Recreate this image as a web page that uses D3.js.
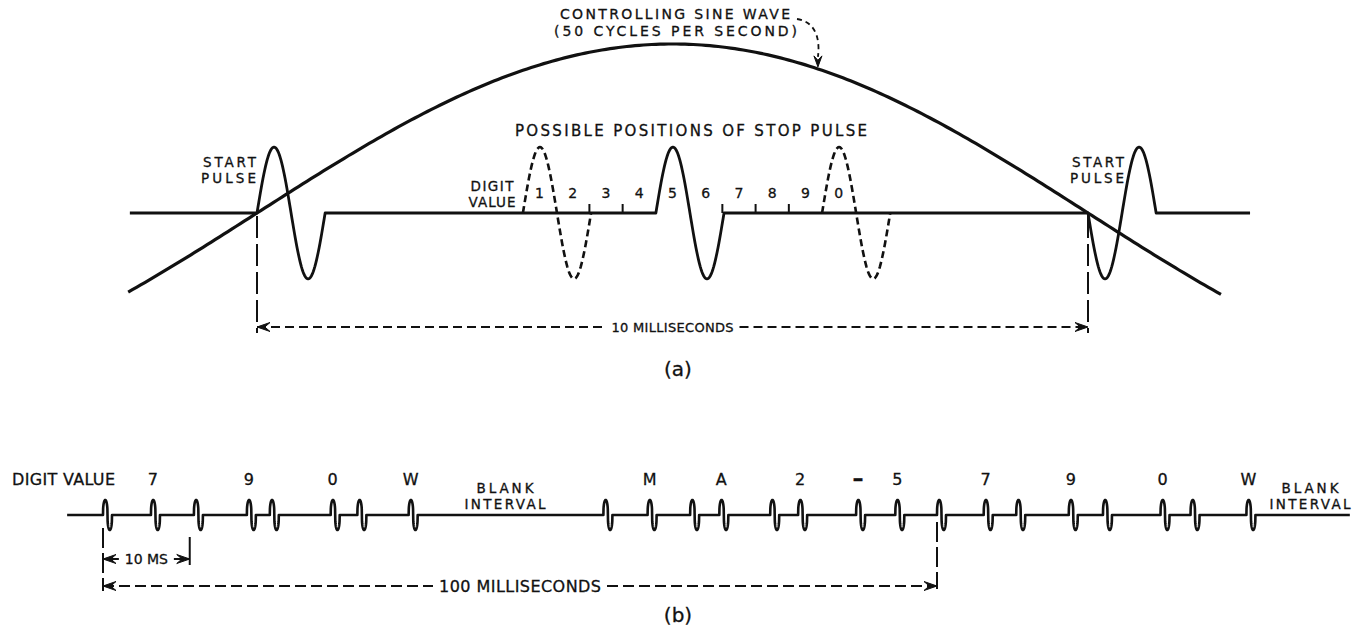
<!DOCTYPE html>
<html>
<head>
<meta charset="utf-8">
<script src="https://cdn.jsdelivr.net/npm/d3@7/dist/d3.min.js"></script>
<style>
  body { margin: 0; background: #fff; }
  text { font-family: "DejaVu Sans", sans-serif; fill: #111; stroke: #111; stroke-width: 0.3; }
</style>
</head>
<body>
<svg id="fig" width="1354" height="635"></svg>
<script>
// ---- (a) one 10 ms half cycle, times in ms from the first start pulse ----
const sineSpanA = [-1.55, 11.6];
const baselineSpanA = [-1.53, 11.95];
const startPulsesA = [{ t: 0, dir: 1 }, { t: 10, dir: -1 }];
const stopPulseA = { t: 4.8, dir: 1 };            // digit 5, drawn solid
const dashedStopPulsesA = [3.2, 6.8];              // digits 1 and 0
const digitsA = ["1", "2", "3", "4", "5", "6", "7", "8", "9", "0"];
const firstSlotA = 3.2;
const slotWidthA = 0.4;
const tickSlotsA = [2, 3, 6, 7, 8];
const pulseWidthA = 0.82;
const pulseAmpA = 0.39;                            // relative to the 50 c/s sine

// ---- (b) pulse train, times in ms ----
const baselineSpanB = [-4.3, 149.5];
const pulseTimesB = [0, 5.75, 10.9, 17.25, 20.0, 27.3, 30.5, 36.65,
  60.0, 65.3, 70.4, 73.9, 80.0, 83.35, 90.3, 95.0,
  100, 105.6, 109.5, 115.8, 119.9, 126.8, 130.4, 137.1];
const charLabelsB = ["7", "9", "0", "W", "M", "A", "2", "\u2013", "5", "7", "9", "0", "W"];
const charTimesB = [5.75, 17.25, 27.3, 36.65, 65.3, 73.9, 83.35, 90.3, 95.0, 105.6, 115.8, 126.8, 137.1];
const blankStartsB = [36.65, 137.1];
const pulseWidthB = 1.08;
const shortSpanB = [0, 10.4];
const longSpanB = [0, 100];

const svg = d3.select('#fig');

const xA = d3.scaleLinear().domain([0, 10]).range([257, 1088]);
const yA = d3.scaleLinear().domain([-1, 1]).range([382, 44]);
const xB = d3.scaleLinear().domain([0, 100]).range([103, 937]);
const yB = d3.scaleLinear().domain([-1, 1]).range([530, 500]);

function pulsePoints(t0, width, amp, dir, squash) {
  const pts = [];
  const n = 80;
  for (let k = 0; k <= n; k++) {
    const ph = k / n;
    const s = Math.sin(2 * Math.PI * ph);
    const f = Math.sign(s) * Math.pow(Math.abs(s), squash);
    pts.push([t0 + ph * width, dir * amp * f]);
  }
  return pts;
}

function label(g, str, x, y, o = {}) {
  const t = g.append('text')
    .attr('x', x).attr('y', y)
    .attr('text-anchor', o.anchor || 'middle')
    .style('font-size', (o.size || 15) + 'px')
    .text(str);
  if (o.weight) t.style('font-weight', o.weight);
  if (o.len) t.attr('textLength', o.len).attr('lengthAdjust', 'spacing');
  return t;
}

// filled barbed arrowhead, tip at (x, y), pointing along angle a
function arrowHead(g, x, y, a, L = 13, w = 4.5) {
  const c = Math.cos(a), s = Math.sin(a);
  const p = (u, v) => [x - u * c - v * s, y - u * s + v * c];
  g.append('path')
    .attr('d', d3.line()([p(0, 0), p(L, -w), p(L * 0.6, 0), p(L, w), p(0, 0)]))
    .attr('fill', '#111')
    .attr('stroke', '#111')
    .attr('stroke-width', 1)
    .attr('stroke-linejoin', 'round');
}

// dimension line with text gap in the middle
function dimension(g, x0, x1, y, text, size, dash, len) {
  const t = label(g, text, (x0 + x1) / 2, y + size * 0.36, { size: size, len: len });
  const tw = len || t.node().getComputedTextLength();
  const gap = 6;
  const segs = [[x0, (x0 + x1) / 2 - tw / 2 - gap], [(x0 + x1) / 2 + tw / 2 + gap, x1]];
  segs.forEach(([a, b]) => {
    g.append('line')
      .attr('x1', a).attr('x2', b).attr('y1', y).attr('y2', y)
      .attr('stroke', '#111').attr('stroke-width', 2)
      .attr('stroke-dasharray', dash);
  });
  arrowHead(g, x0, y, Math.PI);
  arrowHead(g, x1, y, 0);
}

function extLine(g, x, y0, y1, dash) {
  g.append('line')
    .attr('x1', x).attr('x2', x).attr('y1', y0).attr('y2', y1)
    .attr('stroke', '#111').attr('stroke-width', 2)
    .attr('stroke-dasharray', dash);
}

// ================= (a) =================
const gA = svg.append('g');
const lineA = d3.line().x(d => xA(d[0])).y(d => yA(d[1]));

// controlling sine wave
const sinePts = d3.range(sineSpanA[0], sineSpanA[1] + 0.001, 0.05)
  .map(t => [t, Math.sin(Math.PI * t / 10)]);
gA.append('path')
  .attr('d', lineA(sinePts))
  .attr('fill', 'none').attr('stroke', '#111').attr('stroke-width', 3.2);

// signal: baseline with start pulses and the solid stop pulse
const solidA = startPulsesA.concat([stopPulseA]).sort((a, b) => a.t - b.t);
let sig = [[baselineSpanA[0], 0]];
solidA.forEach(p => { sig = sig.concat(pulsePoints(p.t, pulseWidthA, pulseAmpA, p.dir, 1)); });
sig.push([baselineSpanA[1], 0]);
gA.append('path')
  .attr('d', lineA(sig))
  .attr('fill', 'none').attr('stroke', '#111').attr('stroke-width', 2.8)
  .attr('stroke-linejoin', 'round');

// dashed possible stop pulses
dashedStopPulsesA.forEach(t => {
  gA.append('path')
    .attr('d', lineA(pulsePoints(t, pulseWidthA, pulseAmpA, 1, 1)))
    .attr('fill', 'none').attr('stroke', '#111').attr('stroke-width', 2.6)
    .attr('stroke-dasharray', '7,4');
});

// slot ticks
tickSlotsA.forEach(k => {
  const x = xA(firstSlotA + k * slotWidthA);
  gA.append('line')
    .attr('x1', x).attr('x2', x).attr('y1', yA(0)).attr('y2', yA(0) - 9)
    .attr('stroke', '#111').attr('stroke-width', 2);
});

// digit labels
digitsA.forEach((d, i) => {
  label(gA, d, xA(firstSlotA + (i + 0.5) * slotWidthA), 198, { size: 14 });
});

label(gA, 'CONTROLLING SINE WAVE', 675, 19, { size: 14, len: 230 });
label(gA, '(50 CYCLES PER SECOND)', 675.5, 36, { size: 14, len: 243 });
label(gA, 'POSSIBLE POSITIONS OF STOP PULSE', 691, 136, { size: 15, len: 352 });
label(gA, 'START', 256, 167, { size: 13.5, anchor: 'end', len: 53 });
label(gA, 'PULSE', 256, 183, { size: 13.5, anchor: 'end', len: 55 });
label(gA, 'START', 1124, 167, { size: 13.5, anchor: 'end', len: 52 });
label(gA, 'PULSE', 1124, 183, { size: 13.5, anchor: 'end', len: 54 });
label(gA, 'DIGIT', 492, 191, { size: 13.5, len: 43 });
label(gA, 'VALUE', 492, 207, { size: 13.5, len: 47 });

// pointer from the caption to the sine wave
const tPoint = 6.75;
const tipX = xA(tPoint), tipY = yA(Math.sin(Math.PI * tPoint / 10)) - 2;
gA.append('path')
  .attr('d', `M797,19 C812,21 ${tipX + 3},34 ${tipX},${tipY - 10}`)
  .attr('fill', 'none').attr('stroke', '#111').attr('stroke-width', 1.8)
  .attr('stroke-dasharray', '5,4');
arrowHead(gA, tipX, tipY, Math.PI / 2, 11, 4);

// 10 ms dimension
extLine(gA, xA(0), 216, 333, '22,6');
extLine(gA, xA(10), 216, 333, '22,6');
dimension(gA, xA(0), xA(10), 327, '10 MILLISECONDS', 13, '9,5', 122);

label(gA, '(a)', 678, 376, { size: 20 });

// ================= (b) =================
const gB = svg.append('g');
const lineB = d3.line().x(d => xB(d[0])).y(d => yB(d[1]));

let sigB = [[baselineSpanB[0], 0]];
pulseTimesB.forEach(t => { sigB = sigB.concat(pulsePoints(t, pulseWidthB, 1, 1, 0.35)); });
sigB.push([baselineSpanB[1], 0]);
gB.append('path')
  .attr('d', lineB(sigB))
  .attr('fill', 'none').attr('stroke', '#111').attr('stroke-width', 2.6)
  .attr('stroke-linejoin', 'round');

label(gB, 'DIGIT VALUE', 12, 485, { size: 16, anchor: 'start', len: 103 });
charLabelsB.forEach((c, i) => {
  const dash = c === '\u2013';
  label(gB, c, xB(charTimesB[i]) + 2, dash ? 486 : 485, { size: dash ? 22 : 16, weight: dash ? 'bold' : null });
});

// blank interval captions, centred in the gap after each W
const blankCenters = [505, 1310];
blankStartsB.forEach((t, i) => {
  label(gB, 'BLANK', blankCenters[i], 493, { size: 13.5, len: 57 });
  label(gB, 'INTERVAL', blankCenters[i], 509, { size: 13.5, len: 81 });
});

extLine(gB, xB(shortSpanB[0]), 528, 591, '20,5');
extLine(gB, xB(shortSpanB[1]), 537, 565, '40,0');
extLine(gB, xB(longSpanB[1]), 522, 589, '20,5');

// 10 ms short dimension (solid)
dimension(gB, xB(shortSpanB[0]), xB(shortSpanB[1]), 559, '10 MS', 14, '0', 43);
// 100 ms dimension (dashed)
dimension(gB, xB(longSpanB[0]), xB(longSpanB[1]), 586, '100 MILLISECONDS', 16, '11,5', 162);

label(gB, '(b)', 678, 622, { size: 20 });
</script>
</body>
</html>
